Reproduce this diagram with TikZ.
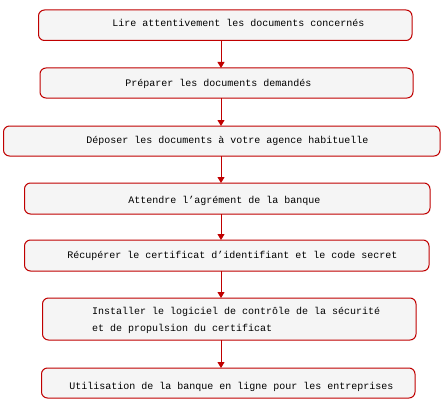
\documentclass[tikz,border=0pt]{standalone}
\usepackage{fontspec}
\setmonofont{Liberation Mono}
\usetikzlibrary{arrows.meta}
\definecolor{boxred}{HTML}{C00000}
\definecolor{boxfill}{HTML}{F5F5F5}
\tikzset{
  stepbox/.style={draw=boxred, fill=boxfill, line width=1pt, rounded corners=6pt},
  steptext/.style={font=\ttfamily\fontsize{10}{16}\selectfont, inner sep=0pt, anchor=center},
  flow/.style={draw=boxred, line width=1pt, -{Triangle[length=6pt,width=7pt]}}
}
\begin{document}
\begin{tikzpicture}[x=1pt,y=-1pt]
\useasboundingbox (0,0) rectangle (443,409);
\fill[white] (0,0) rectangle (443,409);
% boxes
\draw[stepbox] (38.5,10) rectangle (412,40.5);
\draw[stepbox] (40,68) rectangle (413,98);
\draw[stepbox] (3.5,126) rectangle (440,156);
\draw[stepbox] (24.5,183) rectangle (430,214);
\draw[stepbox] (24.5,240) rectangle (429,271);
\draw[stepbox] (42.5,298) rectangle (416,340);
\draw[stepbox] (41.5,368) rectangle (415,398);
% anchors for connectors
\coordinate (b1) at (221,40.5);
\coordinate (t2) at (221,68);
\coordinate (b2) at (221,98);
\coordinate (t3) at (221,126);
\coordinate (b3) at (221,156);
\coordinate (t4) at (221,183);
\coordinate (b4) at (221,214);
\coordinate (t5) at (221,240);
\coordinate (b5) at (221,271);
\coordinate (t6) at (221,298);
\coordinate (b6) at (221,340);
\coordinate (t7) at (221,368);
% texts
\node[steptext] (n1) at (238.5,22.5) {Lire attentivement les documents concernés};
\node[steptext] (n2) at (218.5,84) {Préparer les documents demandés};
\node[steptext] (n3) at (227.5,141) {Déposer les documents à votre agence habituelle};
\node[steptext] (n4) at (224.5,200.5) {Attendre l’agrément de la banque};
\node[steptext] (n5) at (232.5,255.5) {Récupérer le certificat d’identifiant et le code secret};
\node[steptext, anchor=west] (n6a) at (92,312) {Installer le logiciel de contrôle de la sécurité};
\node[steptext, anchor=west] (n6b) at (92,328.5) {et de propulsion du certificat};
\node[steptext] (n7) at (231.5,386.5) {Utilisation de la banque en ligne pour les entreprises};
% connectors
\draw[flow] (b1) -- (t2);
\draw[flow] (b2) -- (t3);
\draw[flow] (b3) -- (t4);
\draw[flow] (b4) -- (t5);
\draw[flow] (b5) -- (t6);
\draw[flow] (b6) -- (t7);
\end{tikzpicture}
\end{document}
